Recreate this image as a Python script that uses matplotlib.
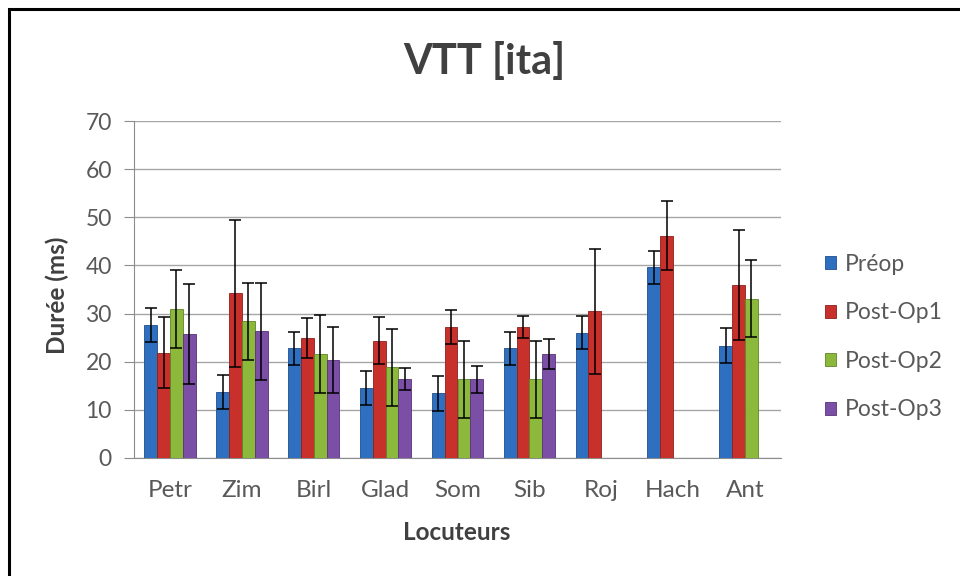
import numpy as np
import matplotlib
matplotlib.use('Agg')
import matplotlib.pyplot as plt
from matplotlib.patches import Rectangle

plt.rcParams['font.family'] = ['Lato', 'DejaVu Sans']

locuteurs = ['Petr', 'Zim', 'Birl', 'Glad', 'Som', 'Sib', 'Roj', 'Hach', 'Ant']
series = ['Préop', 'Post-Op1', 'Post-Op2', 'Post-Op3']

preop = [27.6, 13.7, 22.8, 14.6, 13.4, 22.8, 26.0, 39.6, 23.3]
preop_err = [3.5, 3.6, 3.4, 3.5, 3.6, 3.4, 3.4, 3.4, 3.6]
postop1 = [21.9, 34.2, 24.9, 24.4, 27.2, 27.2, 30.5, 46.2, 35.9]
postop1_err = [7.3, 15.3, 4.1, 4.8, 3.6, 2.3, 13.0, 7.2, 11.4]
postop2 = [31.0, 28.4, 21.7, 18.8, 16.4, 16.4, np.nan, np.nan, 33.1]
postop2_err = [8.1, 8.0, 8.1, 7.9, 8.0, 8.0, np.nan, np.nan, 8.0]
postop3 = [25.7, 26.3, 20.4, 16.4, 16.4, 21.6, np.nan, np.nan, np.nan]
postop3_err = [10.4, 10.1, 6.9, 2.2, 2.8, 3.2, np.nan, np.nan, np.nan]

values = [preop, postop1, postop2, postop3]
errors = [preop_err, postop1_err, postop2_err, postop3_err]
colors = ['#2f6fc0', '#c8302b', '#8cb83c', '#7b4fa6']
edges = ['#1f4f8f', '#8f1f1c', '#5f8526', '#553478']

fig = plt.figure(figsize=(9.6, 5.76), dpi=100)
ax = fig.add_axes([134/960, 1-458/576, 647/960, 337/576])

x = np.arange(len(locuteurs))
w = 0.179
for i in range(4):
    pos = x + (i - 1.5) * w
    ax.bar(pos, values[i], w, color=colors[i], edgecolor=edges[i], linewidth=0.6,
           label=series[i], zorder=3)
    ax.errorbar(pos, values[i], yerr=errors[i], fmt='none', ecolor='black',
                elinewidth=1.1, capsize=4.3, capthick=1.1, zorder=4)

ax.set_xlim(-0.5, len(locuteurs) - 0.5)
ax.set_ylim(0, 70)
ax.set_yticks(range(0, 71, 10))
ax.set_xticks(x)
ax.set_xticklabels(locuteurs)
ax.yaxis.grid(True, color='#a6a6a6', linewidth=1.0, zorder=0)
ax.set_axisbelow(True)
for s in ['top', 'right']:
    ax.spines[s].set_visible(False)
ax.spines['left'].set_color('#8c8c8c')
ax.spines['bottom'].set_color('#8c8c8c')
ax.tick_params(axis='y', colors='#8c8c8c', labelcolor='#595959', labelsize=16.5,
               length=7, pad=9)
ax.tick_params(axis='x', length=0, labelcolor='#595959', labelsize=17.5, pad=16)

ax.set_ylabel('Durée (ms)', fontsize=17.5, fontweight='bold', color='#404040',
              va='center')
ax.yaxis.set_label_coords((57 - 134) / 647, (458 - 295) / 337)
ax.set_xlabel('Locuteurs', fontsize=17.5, fontweight='bold', color='#404040',
              va='center')
ax.xaxis.set_label_coords((457 - 134) / 647, -(532 - 458) / 337)

fig.text(484/960, 1-62/576, 'VTT [ita]', fontsize=30, fontweight='bold',
         color='#404040', ha='center', va='center')

leg = fig.legend(loc='center left', bbox_to_anchor=(825/960, 1-337/576), frameon=False,
                 fontsize=16.5, labelspacing=1.2, handlelength=0.5, handleheight=0.5,
                 handletextpad=0.35, borderpad=0, borderaxespad=0)
for t in leg.get_texts():
    t.set_color('#595959')

# outer frame
fig.patches.append(Rectangle((9/960, -0.1), 1.2, 1.1 - 9/576, transform=fig.transFigure,
                             fill=False, edgecolor='black', linewidth=2.2))

fig.savefig('out.png', dpi=100)
